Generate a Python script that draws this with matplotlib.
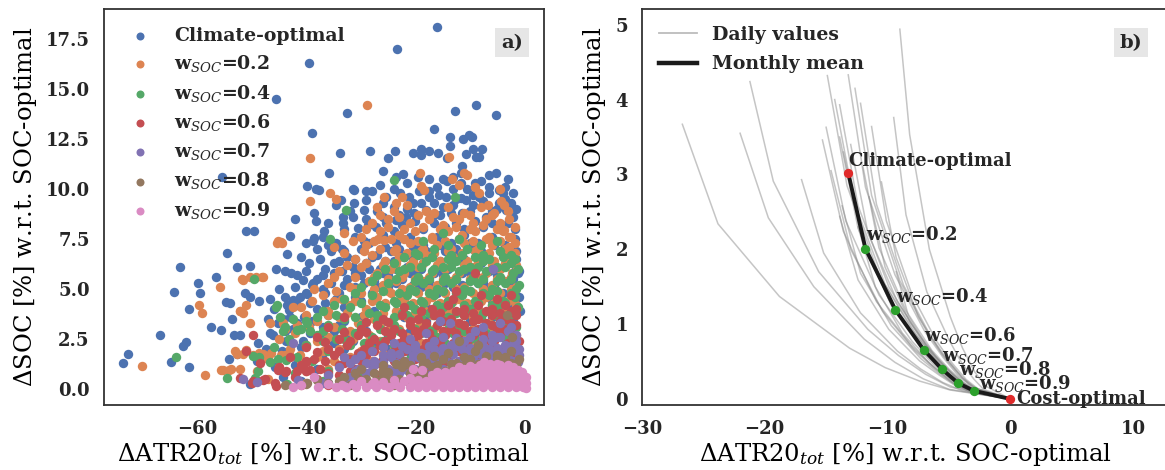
import numpy as np
import matplotlib
matplotlib.use('Agg')
import matplotlib.pyplot as plt
from matplotlib.lines import Line2D

plt.rcParams['font.family'] = ['DejaVu Serif', 'DejaVu Sans']
plt.rcParams['mathtext.fontset'] = 'dejavuserif'
plt.rcParams['text.color'] = '#262626'

# ---------------- panel a) data ----------------
climate_xy = [
    (-16.1,18.1),(-23.3,17.0),(-39.5,16.3),(-45.6,14.5),(-32.5,13.8),(-8.9,14.2),(-12.7,13.9),(-5.2,13.7),
    (-38.9,12.8),(-16.5,13.0),(-13.6,12.6),(-11.2,12.5),(-10.1,12.7),(-9.6,12.6),(-13.7,12.15),
    (-23.8,11.9),(-28.3,11.9),(-33.8,11.8),(-20.4,11.8),(-19.0,12.0),(-19.0,11.7),(-17.4,11.9),(-15.8,11.8),(-14.1,11.55),
    (-10.7,11.75),(-9.5,12.0),(-7.8,12.0),(-8.9,11.6),(-8.3,11.6),(-25.1,11.55),(-26.0,10.9),(-35.8,10.8),(-22.3,10.75),(-23.6,10.6),
    (-17.4,10.5),(-15.0,10.5),(-14.1,10.4),(-11.4,11.15),(-11.6,10.8),(-11.6,10.3),(-5.2,10.8),(-55.5,10.6),
    (-39.8,10.15),(-38.2,10.0),(-37.6,9.95),(-31.2,9.95),(-6.4,10.1),(-4.6,9.95),(-4.0,9.8),
    (-25.4,9.6),(-22.9,9.8),(-21.1,9.6),(-19.3,9.87),(-17.4,9.9),(-15.7,9.7),(-14.4,9.6),(-11.6,9.55),(-9.5,9.7),
    (-31.5,10.0),(-29.0,9.45),(-29.4,8.95),(-38.5,8.8),(-38.2,8.4),(-33.3,8.6),(-33.3,8.3),(-31.2,9.3),(-36.7,7.9),(-38.8,7.4),(-38.5,7.55),
    (-42.0,8.5),(-33.6,9.45),(-51.0,7.9),(-49.6,7.9),(-43.0,7.65),(-54.6,6.8),(-43.5,6.75),(-63.2,6.1),(-52.8,6.1),(-50.3,6.15),
    (-45.5,6.0),(-44.0,5.9),(-42.9,5.8),(-41.8,5.7),(-56.5,5.6),(-59.8,5.3),(-59.5,4.8),(-64.2,4.85),(-61.6,4.0),(-54.7,4.35),(-54.0,4.3),
    (-51.2,4.8),(-50.4,4.6),(-48.6,4.4),(-46.7,4.5),(-44.0,4.6),(-42.4,4.45),(-41.2,4.6),(-39.9,4.75),
    (-66.9,2.7),(-57.4,3.1),(-55.6,2.95),(-53.6,3.5),(-53.2,2.7),(-52.2,2.7),(-48.8,2.3),(-46.7,2.8),(-46.1,2.7),(-41.8,2.95),(-39.4,2.8),
    (-62.0,2.35),(-62.6,2.15),(-72.7,1.75),(-73.6,1.3),(-64.9,1.35),(-61.5,1.1),(-54.1,1.5),(-52.8,1.75),(-50.4,0.25),(-47.4,2.0),(-43.7,2.4),
    (-40.6,5.45),(-38.8,5.3),(-40.0,4.8),(-39.4,4.3),(-41.8,4.2),(-43.1,3.95),(-44.3,3.5),(-45.2,3.3),(-41.8,3.3),(-40.6,2.4),
    (-30.6,8.05),(-28.7,8.2),(-27.2,8.1),(-25.4,8.3),(-23.6,8.45),(-21.7,8.6),(-20.2,8.8),(-18.0,8.95),(-16.5,9.3),(-15.0,9.1),
    (-12.5,9.5),(-10.7,9.45),(-8.3,9.6),(-6.4,9.8),(-4.6,9.3),(-3.4,8.95),(-2.1,8.6),
    (-49.0,1.4),(-47.5,1.6),(-45.8,1.1),(-44.2,0.6),
    (-40.0,7.3),(-37.0,7.6),(-34.5,7.3),(-31.0,7.6),(-28.5,7.3),(-26.0,7.7),(-23.5,7.3),(-21.0,7.6),(-18.5,7.2),(-16.0,7.6),
    (-13.5,7.3),(-11.0,7.7),(-8.5,7.3),(-6.0,7.6),(-3.5,7.2),(-1.8,7.5),
    (-35.5,6.9),(-32.5,6.6),(-30.0,7.0),(-27.0,6.7),(-24.5,6.9),(-22.0,6.6),(-19.5,7.0),(-17.0,6.7),(-14.5,6.9),(-12.0,6.6),
    (-9.5,7.0),(-7.0,6.7),(-4.5,6.9),(-2.5,6.6),
    (-39.5,6.3),(-36.5,6.0),(-34.0,6.4),(-31.5,6.1),(-29.0,6.3),(-26.5,6.0),(-24.0,6.4),(-21.5,6.1),(-18.5,6.3),(-16.0,6.0),
    (-13.0,6.4),(-10.5,6.1),(-8.0,6.3),(-5.5,6.0),(-3.0,6.3),(-1.5,6.0),
    (-38.0,5.5),(-35.0,5.8),(-32.5,5.5),(-30.0,5.7),(-27.5,5.4),(-25.0,5.7),(-22.5,5.5),(-20.0,5.8),(-17.5,5.4),(-15.0,5.7),
    (-12.5,5.5),(-10.0,5.8),(-7.5,5.4),(-5.0,5.7),(-2.0,5.5),
    (-37.0,5.0),(-34.0,4.8),(-31.0,5.1),(-28.0,4.8),(-25.0,5.1),(-22.0,4.9),(-19.0,5.1),(-16.0,4.8),(-13.0,5.1),(-10.0,4.9),
    (-7.0,5.1),(-4.0,4.8),(-1.8,5.1),
    (-36.5,4.3),(-33.0,4.1),(-30.0,4.4),(-26.0,4.2),(-22.0,4.4),(-18.0,4.1),(-14.0,4.4),(-10.0,4.2),(-6.0,4.4),(-2.2,4.2),
    (-43.0,3.6),(-39.0,3.4),(-36.0,3.7),(-33.0,3.4),(-30.0,3.6),(-26.0,3.4),(-22.0,3.6),(-18.0,3.4),(-14.0,3.6),(-10.0,3.4),
    (-6.0,3.6),(-2.0,3.4),
    (-37.5,2.6),(-35.0,2.9),(-32.0,2.6),(-29.0,2.9),(-25.0,2.6),(-21.0,2.9),(-17.0,2.6),(-13.0,2.8),(-9.0,2.6),(-5.0,2.8),(-1.8,2.6),
    (-44.5,1.9),(-41.0,2.1),(-37.0,1.8),(-33.0,2.0),(-29.0,1.8),(-25.0,2.0),(-21.0,1.8),(-16.0,2.0),(-11.0,1.8),(-6.0,2.0),(-2.0,1.8),
    (-42.0,1.2),(-38.0,1.0),(-34.0,1.2),(-30.0,1.0),(-26.0,1.2),(-21.0,1.0),(-16.0,1.2),
    (-41.0,0.4),(-36.0,0.3),(-31.0,0.4),
    (-27.0,8.9),(-24.0,9.1),(-20.5,9.3),(-17.0,8.6),(-13.5,8.8),(-10.0,8.9),(-7.0,8.6),(-5.0,9.0),(-2.5,9.3),(-3.0,10.5),
    (-9.0,10.3),(-13.0,10.0),(-1.0,4.6),(-1.2,5.8),(-0.8,3.9),
    (-28.0,9.9),(-26.5,10.2),(-24.0,10.0),(-21.5,10.3),(-19.5,10.6),(-16.0,10.1),(-13.0,10.6),(-10.5,10.0),(-8.0,10.4),
    (-6.5,10.7),(-3.5,10.1),(-2.0,9.8),
    (-34.5,9.2),(-32.0,8.9),(-29.0,9.9),(-26.0,9.3),(-23.0,8.7),(-21.5,9.0),(-19.0,9.3),(-17.5,9.6),(-15.5,8.7),(-13.0,9.2),
    (-11.5,8.8),(-9.5,9.2),(-7.5,9.4),(-6.0,8.9),(-3.5,9.5),(-1.5,9.0),
    (-36.0,8.3),(-33.0,8.0),(-31.5,8.6),(-29.0,8.5),(-26.0,8.6),(-24.0,7.9),(-22.5,8.2),(-20.0,8.4),(-18.5,8.0),(-16.5,8.3),
    (-14.5,8.1),(-12.5,8.3),(-11.0,8.0),(-9.0,8.4),(-7.5,8.1),(-6.0,8.3),(-4.5,8.0),(-3.0,8.3),(-1.8,8.0),
    (-38.0,7.0),(-36.0,7.2),(-33.5,7.0),(-29.5,7.4),(-25.5,7.1),(-23.0,7.0),(-20.5,7.1),(-18.0,6.9),(-15.5,7.2),(-12.5,7.0),
    (-10.0,7.3),(-8.0,6.9),(-5.5,7.2),(-3.0,7.0),(-1.5,6.9),
    (-41.0,6.6),(-37.5,6.5),(-35.0,6.3),(-33.0,6.9),(-31.0,6.5),(-28.0,6.6),(-25.5,6.4),(-23.0,6.7),(-20.5,6.5),(-18.0,6.6),
    (-15.5,6.4),(-13.5,6.7),(-11.0,6.5),(-8.5,6.6),(-6.0,6.4),(-3.5,6.6),(-1.5,6.5),
    (-40.0,5.9),(-37.0,5.7),(-33.5,5.9),(-31.0,5.8),(-28.5,6.0),(-26.0,5.8),(-23.5,6.0),(-21.0,5.8),(-19.0,6.0),(-16.5,5.8),
    (-14.0,6.0),(-11.5,5.8),(-9.0,6.0),(-6.5,5.9),(-4.0,6.1),(-1.0,5.9),
    (-39.0,5.2),(-35.5,5.3),(-33.0,5.2),(-29.5,5.3),(-26.5,5.1),(-23.5,5.3),(-20.5,5.2),(-17.5,5.1),(-14.5,5.3),(-11.5,5.2),
    (-8.5,5.3),(-5.5,5.2),(-3.0,5.3),
    (-47.0,3.5),(-45.0,5.0),(-43.5,4.2),(-42.0,5.1),(-40.5,3.6),(-38.0,4.0),(-36.5,4.8),(-34.5,4.5),(-32.5,3.9),(-31.0,4.6),
    (-46.0,4.0),(-44.0,2.9),(-42.5,3.0),(-37.0,3.1),(-34.0,3.2),(-35.0,2.3),(-31.5,2.4),(-28.0,2.3),(-27.5,3.9),
]

w02_xy = [
    (-28.9,14.2),(-39.3,11.55),(-19.2,10.8),(-13.3,10.5),(-13.8,11.6),(-18.4,9.95),(-39.3,9.4),(-35.6,9.8),(-34.6,9.5),
    (-45.4,7.3),(-44.4,7.3),(-49.2,5.6),(-47.9,5.6),(-51.7,5.45),(-55.8,5.1),(-59.7,4.2),(-59.1,3.8),(-52.1,3.9),(-51.0,4.2),
    (-50.4,3.3),(-70.2,1.15),(-58.6,0.7),(-55.6,0.95),(-53.8,0.98),(-53.0,1.87),(-51.0,1.92),(-48.7,1.78),(-25.8,9.57),
    (-26.9,7.5),(-25.8,7.45),(-18.9,10.15),(-9.0,10.1),(-8.4,9.8),(-4.5,10.0),(-4.2,9.4),(-3.8,7.95),(-2.8,7.1),(-11.0,10.8),
    (-10.6,10.7),(-12.0,10.2),(-23.5,9.3),(-22.4,9.6),(-6.7,9.2),
    (-46.7,3.3),(-44.3,3.3),(-41.8,3.2),(-42.4,4.1),(-52.2,3.9),(-51.6,3.8),(-48.1,5.6),(-51.8,5.5),(-50.4,5.6),(-45.2,7.4),
    (-44.6,7.35),(-55.3,0.95),(-54.1,0.95),(-52.2,1.0),(-52.8,1.75),(-51.6,1.75),(-49.8,1.7),(-48.0,1.75),(-46.4,1.8),
    (-44.6,1.7),(-43.1,1.75),(-41.2,1.7),
    (-27.0,9.1),(-24.0,8.9),(-21.5,9.2),(-18.0,8.9),(-14.0,9.1),(-11.0,8.8),(-8.0,9.1),(-5.5,8.8),(-3.8,9.2),
    (-28.0,8.3),(-25.0,8.5),(-21.0,8.3),(-17.5,8.5),(-15.0,8.2),(-12.0,8.5),(-9.5,8.3),(-7.0,8.5),(-4.5,8.3),(-2.8,8.5),
    (-33.0,7.8),(-30.0,7.6),(-26.5,7.9),(-23.0,7.7),(-20.0,7.9),(-17.0,7.6),(-14.0,7.9),(-11.5,7.7),(-9.0,7.9),(-6.5,7.6),
    (-4.0,7.9),(-2.5,7.6),
    (-35.0,7.1),(-29.0,7.2),(-23.5,7.0),(-21.0,7.3),(-18.5,7.0),(-16.0,7.2),(-13.5,7.0),(-11.0,7.3),(-8.5,7.0),(-6.0,7.2),
    (-3.5,7.0),(-1.8,7.3),
    (-31.0,6.5),(-28.0,6.7),(-25.5,6.4),(-23.0,6.6),(-20.5,6.4),(-18.0,6.7),(-15.5,6.4),(-13.0,6.6),(-10.5,6.4),(-8.0,6.7),
    (-5.5,6.4),(-3.0,6.6),
    (-34.0,5.9),(-30.0,6.1),(-27.0,5.8),(-24.5,6.0),(-22.0,5.8),(-19.5,6.1),(-17.0,5.8),(-14.5,6.0),(-12.0,5.8),(-9.5,6.1),
    (-7.0,5.8),(-4.5,6.0),(-2.2,5.8),
    (-36.0,5.3),(-32.0,5.1),(-28.5,5.4),(-26.0,5.2),(-23.5,5.4),(-21.0,5.1),(-18.5,5.4),(-16.0,5.2),(-13.5,5.4),(-11.0,5.1),
    (-8.5,5.4),(-6.0,5.2),(-3.5,5.4),(-1.5,5.1),
    (-37.0,4.7),(-33.5,4.5),(-30.0,4.8),(-27.0,4.6),(-24.5,4.8),(-22.0,4.5),(-19.5,4.8),(-17.0,4.6),(-14.5,4.8),(-12.0,4.5),
    (-9.5,4.8),(-7.0,4.6),(-4.5,4.8),(-2.0,4.5),
    (-41.0,4.1),(-36.0,3.9),(-32.0,4.2),(-29.0,4.0),(-26.0,4.2),(-23.5,3.9),(-21.0,4.2),(-18.5,4.0),(-16.0,4.2),(-13.5,3.9),
    (-11.0,4.2),(-8.5,4.0),(-6.0,4.2),(-3.5,3.9),(-1.5,4.2),
    (-38.0,3.4),(-34.0,3.6),(-30.5,3.3),(-27.5,3.5),(-24.5,3.3),(-21.5,3.6),(-18.5,3.3),(-15.5,3.5),(-12.5,3.3),(-9.5,3.6),
    (-6.5,3.3),(-3.5,3.5),
    (-42.0,2.8),(-36.0,2.6),(-32.0,2.9),(-28.5,2.7),(-25.0,2.9),(-21.5,2.6),(-18.0,2.9),(-14.5,2.7),(-11.0,2.9),(-7.5,2.6),
    (-4.0,2.9),(-1.5,2.7),
    (-40.0,2.2),(-34.0,2.0),(-29.0,2.3),(-24.0,2.1),(-19.0,2.3),(-14.0,2.0),(-9.0,2.2),(-4.0,2.0),
    (-47.0,1.5),(-44.0,1.7),(-41.0,1.4),(-38.0,1.6),(-35.0,1.4),(-32.0,1.6),(-28.0,1.4),(-23.0,1.6),(-17.0,1.4),(-11.0,1.6),(-5.0,1.4),
    (-49.0,0.9),(-45.0,1.1),(-40.0,0.9),(-36.0,1.0),(-31.0,0.8),(-26.0,1.0),
    (-47.0,0.5),(-40.0,0.3),(-33.0,0.4),
    (-26.5,8.7),(-23.0,8.6),(-19.5,8.7),(-16.5,8.8),(-13.0,8.6),(-10.0,8.7),(-6.0,8.7),(-3.0,8.9),
    (-29.0,8.0),(-25.0,8.1),(-22.0,8.0),(-18.5,8.1),(-15.5,8.0),(-12.5,8.1),(-10.0,8.0),(-7.5,8.2),(-5.0,8.0),(-1.8,8.1),
    (-31.5,7.4),(-27.5,7.4),(-24.5,7.5),(-22.0,7.5),(-19.5,7.4),(-17.0,7.5),(-14.5,7.4),(-12.0,7.5),(-9.5,7.4),(-7.0,7.5),
    (-4.5,7.4),(-2.8,7.6),
    (-33.0,6.8),(-29.5,6.9),(-26.5,7.0),(-24.0,6.9),(-21.5,6.8),(-19.0,6.9),(-16.5,6.8),(-14.0,6.9),(-11.5,6.8),(-9.0,6.9),
    (-6.5,6.8),(-4.0,6.9),(-1.8,6.8),
    (-32.5,6.2),(-29.0,6.3),(-26.0,6.2),(-23.5,6.3),(-21.0,6.2),(-18.5,6.3),(-16.0,6.2),(-13.5,6.3),(-11.0,6.2),(-8.5,6.3),
    (-6.0,6.2),(-3.5,6.3),(-1.5,6.2),
    (-35.0,5.6),(-31.0,5.6),(-27.5,5.6),(-25.0,5.5),(-22.5,5.6),(-20.0,5.5),(-17.5,5.6),(-15.0,5.5),(-12.5,5.6),(-10.0,5.5),
    (-7.5,5.6),(-5.0,5.5),(-2.5,5.6),
    (-38.5,5.0),(-34.5,4.9),(-31.0,5.0),(-27.5,5.0),(-25.0,4.9),(-22.5,5.0),(-20.0,4.9),(-17.5,5.0),(-15.0,4.9),(-12.5,5.0),
    (-10.0,4.9),(-7.5,5.0),(-5.0,4.9),(-2.5,5.0),
    (-39.0,4.4),(-35.0,4.4),(-31.0,4.4),(-28.0,4.4),(-25.5,4.3),(-23.0,4.4),(-20.5,4.3),(-18.0,4.4),(-15.5,4.3),(-13.0,4.4),
    (-10.5,4.3),(-8.0,4.4),(-5.5,4.3),(-3.0,4.4),
    (-40.0,3.7),(-36.0,3.7),(-32.5,3.8),(-29.5,3.7),(-26.0,3.8),(-23.0,3.7),(-20.0,3.8),(-17.0,3.7),(-14.0,3.8),(-11.0,3.7),
    (-8.0,3.8),(-5.0,3.7),(-2.0,3.8),
    (-44.0,3.0),(-39.5,3.1),(-35.0,3.1),(-30.0,3.0),(-26.5,3.1),(-23.0,3.0),(-19.5,3.1),(-16.5,3.0),(-13.0,3.1),(-9.5,3.0),
    (-6.0,3.1),(-2.5,3.0),
    (-45.0,2.5),(-38.0,2.4),(-31.5,2.5),(-26.5,2.4),(-21.5,2.5),(-16.5,2.4),(-11.5,2.5),(-6.5,2.4),(-2.0,2.4),
    (-43.0,2.0),(-37.0,1.9),(-30.0,1.9),(-26.0,1.8),(-20.0,1.9),(-14.0,1.7),(-8.0,1.8),
]

w04_xy = [
    (-24.0,10.45),(-12.8,9.58),(-32.7,8.95),(-35.6,7.5),(-49.6,5.5),(-45.4,4.2),(-63.9,1.6),(-54.6,0.55),(-49.5,0.55),
    (-15.0,7.8),(-43.5,0.25),
    (-45.5,4.1),(-44.9,3.6),(-44.0,3.1),(-42.4,3.5),(-41.8,2.95),(-39.9,3.3),(-39.4,2.9),(-44.3,2.9),(-43.1,2.5),
    (-49.8,1.65),(-48.6,1.6),(-46.7,1.35),(-45.2,1.5),(-43.7,1.45),(-41.8,1.6),(-48.9,0.87),
    (-18.5,7.4),(-14.0,7.2),(-12.0,7.5),(-8.0,7.2),(-5.0,7.4),
    (-20.0,6.8),(-16.5,7.0),(-13.5,6.7),(-10.5,7.0),(-7.5,6.7),(-4.5,6.9),(-2.5,6.7),
    (-24.0,6.3),(-21.0,6.1),(-18.0,6.4),(-15.0,6.1),(-12.5,6.4),(-10.0,6.1),(-7.5,6.4),(-5.0,6.1),(-2.5,6.3),
    (-27.0,5.7),(-23.0,5.9),(-19.5,5.6),(-17.0,5.9),(-14.5,5.6),(-12.0,5.9),(-9.5,5.6),(-7.0,5.9),(-4.5,5.6),(-2.0,5.8),
    (-30.0,5.1),(-25.0,5.3),(-21.0,5.0),(-18.5,5.3),(-16.0,5.0),(-13.5,5.3),(-11.0,5.0),(-8.5,5.3),(-6.0,5.0),(-3.5,5.3),(-1.5,5.0),
    (-33.0,4.5),(-28.0,4.7),(-24.0,4.4),(-21.5,4.7),(-19.0,4.4),(-16.5,4.7),(-14.0,4.4),(-11.5,4.7),(-9.0,4.4),(-6.5,4.7),
    (-4.0,4.4),(-1.8,4.6),
    (-37.0,3.9),(-32.0,4.1),(-28.5,3.8),(-25.5,4.1),(-22.5,3.8),(-20.0,4.0),(-17.5,3.8),(-15.0,4.1),(-12.5,3.8),(-10.0,4.0),
    (-7.5,3.8),(-5.0,4.1),(-2.5,3.8),
    (-40.0,3.4),(-36.0,3.2),(-33.0,3.5),(-30.0,3.2),(-27.0,3.4),(-24.0,3.2),(-21.0,3.5),(-18.0,3.2),(-15.0,3.4),(-12.0,3.2),
    (-9.0,3.5),(-6.0,3.2),(-3.0,3.4),(-1.5,3.1),
    (-38.0,2.7),(-34.5,2.5),(-31.0,2.8),(-28.0,2.6),(-25.0,2.8),(-22.0,2.5),(-19.0,2.8),(-16.0,2.6),(-13.0,2.8),(-10.0,2.5),
    (-7.0,2.8),(-4.0,2.6),
    (-46.0,2.1),(-40.0,2.2),(-36.0,1.9),(-32.0,2.2),(-28.0,2.0),(-24.0,2.2),(-20.0,1.9),(-16.0,2.1),(-12.0,1.9),(-8.0,2.1),(-4.0,1.9),
    (-39.0,1.4),(-33.0,1.6),(-27.0,1.3),(-21.0,1.5),(-15.0,1.3),(-9.0,1.5),
    (-42.0,0.8),(-36.0,0.9),(-30.0,0.7),(-24.0,0.9),
    (-37.0,0.4),(-31.0,0.3),
    (-22.0,6.6),(-19.5,6.7),(-17.0,6.6),(-14.0,6.5),(-11.5,6.7),(-9.0,6.6),(-6.5,6.5),(-4.0,6.6),(-1.8,6.5),
    (-25.5,6.0),(-22.0,6.0),(-19.0,6.1),(-16.5,6.0),(-13.5,6.1),(-11.0,6.0),(-8.5,6.1),(-6.0,6.0),(-3.5,6.1),(-1.2,6.0),
    (-28.0,5.4),(-23.5,5.5),(-20.0,5.4),(-17.5,5.5),(-15.0,5.4),(-12.5,5.5),(-10.0,5.4),(-7.5,5.5),(-5.0,5.4),(-2.5,5.5),
    (-31.0,4.8),(-26.0,4.9),(-23.0,4.8),(-20.0,4.9),(-17.5,4.8),(-15.0,4.9),(-12.5,4.8),(-10.0,4.9),(-7.5,4.8),(-5.0,4.9),
    (-2.5,4.8),(-1.0,5.2),
    (-35.0,4.2),(-30.0,4.3),(-26.5,4.2),(-23.5,4.3),(-21.0,4.2),(-18.5,4.3),(-16.0,4.2),(-13.5,4.3),(-11.0,4.2),(-8.5,4.3),
    (-6.0,4.2),(-3.5,4.3),(-1.2,4.1),
    (-38.0,3.6),(-34.5,3.7),(-31.0,3.6),(-27.0,3.7),(-24.0,3.6),(-21.5,3.7),(-19.0,3.6),(-16.5,3.7),(-14.0,3.6),(-11.0,3.7),
    (-8.0,3.6),(-5.5,3.7),(-3.0,3.6),
    (-41.0,3.0),(-37.0,2.9),(-33.5,3.0),(-30.0,2.9),(-26.5,3.0),(-23.0,2.9),(-20.0,3.0),(-17.0,2.9),(-14.0,3.0),(-11.0,2.9),
    (-8.0,3.0),(-5.0,2.9),(-2.0,3.0),
    (-43.0,2.4),(-37.0,2.4),(-33.0,2.5),(-29.5,2.3),(-26.0,2.4),(-20.5,2.3),(-14.5,2.3),(-8.5,2.4),(-2.0,2.3),
]

w06_xy = [
    (-49.7,2.7),(-51.0,1.9),(-50.0,0.3),(-9.0,5.8),(-47.5,0.5),(-48.5,1.3),(-45.8,0.3),(-12.6,4.9),
    (-49.8,0.37),(-47.9,0.42),(-45.5,0.12),(-45.2,0.92),(-43.7,0.87),(-41.8,0.87),(-40.0,1.37),(-39.4,0.95),(-52.1,0.53),
    (-13.0,4.5),(-8.0,4.7),(-5.0,4.5),(-2.5,4.7),
    (-22.0,4.1),(-17.0,4.0),(-14.0,4.2),(-11.0,4.0),(-8.5,4.2),(-6.0,4.0),(-3.5,4.2),(-1.5,4.0),
    (-33.0,3.6),(-26.0,3.5),(-22.5,3.7),(-19.5,3.5),(-16.5,3.7),(-13.5,3.5),(-11.0,3.7),(-8.5,3.5),(-6.0,3.7),(-3.5,3.5),(-1.5,3.7),
    (-36.0,3.1),(-30.0,3.0),(-27.0,3.2),(-24.0,3.0),(-21.0,3.2),(-18.5,3.0),(-16.0,3.2),(-13.5,3.0),(-11.0,3.2),(-8.5,3.0),
    (-6.0,3.2),(-3.5,3.0),(-1.5,3.2),
    (-38.0,2.6),(-34.0,2.5),(-30.5,2.7),(-27.5,2.5),(-24.5,2.7),(-22.0,2.5),(-19.5,2.7),(-17.0,2.5),(-14.5,2.7),(-12.0,2.5),
    (-9.5,2.7),(-7.0,2.5),(-4.5,2.7),(-2.0,2.5),
    (-40.0,2.1),(-36.0,2.0),(-32.5,2.2),(-29.5,2.0),(-26.5,2.2),(-23.5,2.0),(-21.0,2.2),(-18.5,2.0),(-16.0,2.2),(-13.5,2.0),
    (-11.0,2.2),(-8.5,2.0),(-6.0,2.2),(-3.5,2.0),(-1.5,2.2),
    (-43.0,1.6),(-38.5,1.5),(-35.0,1.7),(-32.0,1.5),(-29.0,1.7),(-26.0,1.5),(-23.0,1.7),(-20.0,1.5),(-17.0,1.7),(-14.0,1.5),
    (-11.0,1.7),(-8.0,1.5),(-5.0,1.7),(-2.0,1.5),
    (-45.0,1.1),(-41.0,1.2),(-37.5,1.0),(-34.0,1.2),(-31.0,1.0),(-28.0,1.2),(-25.0,1.0),(-22.0,1.2),(-19.0,1.0),(-16.0,1.2),
    (-13.0,1.0),(-10.0,1.2),
    (-42.0,0.6),(-38.0,0.5),(-34.0,0.7),(-30.5,0.5),(-27.0,0.7),(-24.0,0.5),
    (-41.0,0.2),(-36.0,0.2),
    (-19.0,3.9),(-15.5,3.8),(-12.5,3.9),(-9.5,3.8),(-7.0,3.9),(-4.5,3.8),(-2.5,3.9),
    (-29.0,3.35),(-25.0,3.35),(-21.0,3.4),(-18.0,3.3),(-15.0,3.4),(-12.0,3.3),(-9.5,3.4),(-7.0,3.3),(-4.5,3.4),(-2.5,3.3),
    (-33.0,2.85),(-29.0,2.85),(-25.5,2.9),(-22.5,2.8),(-20.0,2.9),(-17.5,2.8),(-15.0,2.9),(-12.5,2.8),(-10.0,2.9),(-7.5,2.8),
    (-5.0,2.9),(-2.5,2.8),
    (-36.5,2.35),(-32.0,2.4),(-28.5,2.3),(-25.5,2.4),(-23.0,2.3),(-20.5,2.4),(-18.0,2.3),(-15.5,2.4),(-13.0,2.3),(-10.5,2.4),
    (-8.0,2.3),(-5.5,2.4),(-3.0,2.3),(-1.0,2.4),
    (-38.0,1.85),(-34.0,1.9),(-30.5,1.8),(-27.5,1.9),(-24.5,1.8),(-22.0,1.9),(-19.5,1.8),(-17.0,1.9),(-14.5,1.8),(-12.0,1.9),
    (-9.5,1.8),(-7.0,1.9),(-4.5,1.8),(-2.0,1.9),
    (-40.0,1.35),(-36.5,1.4),(-33.0,1.3),(-30.0,1.4),(-27.0,1.3),(-24.0,1.4),(-21.0,1.3),(-18.0,1.4),(-15.0,1.3),(-12.0,1.4),
    (-9.0,1.3),(-6.5,1.4),(-4.0,1.3),
    (-44.0,0.85),(-40.0,0.9),(-36.0,0.8),(-32.0,0.9),(-29.0,0.8),(-26.0,0.9),(-21.0,0.8),(-17.5,0.85),
]

w07_xy = [
    (-42.5,2.3),(-51.7,0.5),(-5.8,6.0),(-15.4,3.4),(-13.6,3.3),(-33.0,1.6),(-49.0,0.35),(-41.5,0.45),
    (-18.0,2.8),(-9.0,2.9),(-6.0,2.7),(-3.0,2.9),(-1.5,2.7),
    (-24.0,2.3),(-20.0,2.2),(-16.5,2.4),(-13.5,2.2),(-11.0,2.4),(-8.5,2.2),(-6.0,2.4),(-3.5,2.2),(-1.5,2.4),
    (-28.0,1.9),(-24.5,1.8),(-21.5,2.0),(-19.0,1.8),(-16.5,2.0),(-14.0,1.8),(-11.5,2.0),(-9.0,1.8),(-6.5,2.0),(-4.0,1.8),(-1.8,2.0),
    (-31.0,1.5),(-27.5,1.4),(-24.5,1.6),(-22.0,1.4),(-19.5,1.6),(-17.0,1.4),(-14.5,1.6),(-12.0,1.4),(-9.5,1.6),(-7.0,1.4),
    (-4.5,1.6),(-2.0,1.4),
    (-34.0,1.1),(-30.5,1.0),(-27.5,1.2),(-25.0,1.0),(-22.5,1.2),(-20.0,1.0),(-17.5,1.2),(-15.0,1.0),(-12.5,1.2),(-10.0,1.0),
    (-7.5,1.2),(-5.0,1.0),(-2.5,1.2),
    (-36.0,0.7),(-32.0,0.6),(-29.0,0.8),(-26.0,0.6),(-23.0,0.8),(-20.0,0.6),(-17.0,0.8),(-14.0,0.6),
    (-37.0,0.3),(-33.0,0.3),(-29.0,0.3),
    (-7.5,3.1),(-4.5,3.3),(-2.5,3.1),(-5.0,2.6),(-2.8,2.0),
    (-21.0,2.5),(-15.0,2.6),(-12.5,2.55),(-10.0,2.6),(-7.5,2.5),(-4.5,2.6),(-2.0,2.55),
    (-26.0,2.1),(-22.5,2.15),(-20.0,2.05),(-17.5,2.15),(-15.0,2.05),(-12.5,2.15),(-10.0,2.05),(-7.5,2.15),(-5.0,2.05),
    (-2.5,2.15),(-1.0,2.0),
    (-30.0,1.7),(-26.0,1.7),(-23.0,1.75),(-20.5,1.7),(-18.0,1.75),(-15.5,1.7),(-13.0,1.75),(-10.5,1.7),(-8.0,1.75),(-5.5,1.7),
    (-3.0,1.75),(-1.0,1.7),
    (-32.0,1.3),(-29.0,1.3),(-26.0,1.35),(-23.5,1.3),(-21.0,1.35),(-18.5,1.3),(-16.0,1.35),(-13.5,1.3),(-11.0,1.35),(-8.5,1.3),
    (-6.0,1.35),(-3.5,1.3),(-1.2,1.35),
    (-31.0,0.9),(-28.0,0.95),(-24.0,0.9),(-21.5,0.95),(-19.0,0.9),(-16.5,0.95),(-13.5,0.9),(-11.0,0.85),(-8.5,0.9),(-6.0,0.85),
]

w08_xy = [
    (-3.1,3.7),(-39.9,0.3),(-2.2,2.6),(-8.5,2.2),(-44.0,0.2),(-12.0,2.4),
    (-14.0,1.8),(-9.0,1.9),(-5.0,1.7),(-2.5,1.9),
    (-22.0,1.4),(-18.0,1.3),(-15.0,1.5),(-12.5,1.3),(-10.0,1.5),(-7.5,1.3),(-5.0,1.5),(-2.5,1.3),(-1.0,1.5),
    (-30.0,1.0),(-26.0,0.9),(-22.5,1.1),(-19.5,0.9),(-17.0,1.1),(-14.5,0.9),(-12.0,1.1),(-9.5,0.9),(-7.0,1.1),(-4.5,0.9),(-2.0,1.1),
    (-33.0,0.6),(-29.0,0.5),(-26.0,0.7),(-23.0,0.5),(-20.5,0.7),(-18.0,0.5),(-15.5,0.7),(-13.0,0.5),(-10.5,0.7),(-8.0,0.5),
    (-5.5,0.7),(-3.0,0.5),(-1.0,0.7),
    (-40.0,0.25),(-36.0,0.3),(-32.0,0.2),(-28.0,0.3),(-24.0,0.2),(-20.0,0.3),
    (-19.0,1.6),(-16.5,1.65),(-11.0,1.6),(-7.0,1.65),(-3.5,1.6),
    (-26.0,1.2),(-23.5,1.25),(-21.0,1.2),(-18.5,1.25),(-16.0,1.2),(-13.5,1.25),(-11.0,1.2),(-8.5,1.25),(-6.0,1.2),(-3.5,1.25),(-1.5,1.2),
    (-31.0,0.8),(-27.5,0.8),(-25.0,0.85),(-21.0,0.8),(-18.5,0.85),(-16.0,0.8),(-13.5,0.85),(-11.0,0.8),(-8.5,0.85),(-6.0,0.8),
    (-3.5,0.85),(-1.2,0.9),
    (-38.0,0.45),(-34.0,0.4),(-30.5,0.45),(-27.0,0.4),(-25.0,0.45),(-21.5,0.4),(-19.0,0.45),(-16.5,0.4),(-14.0,0.45),(-11.5,0.4),
    (-9.0,0.45),(-6.5,0.4),(-4.0,0.45),(-2.0,0.4),
]

w09_xy = [
    (-7.4,1.35),(-5.0,1.25),(-3.0,1.2),
    (-20.5,1.0),(-18.7,0.95),(-13.0,0.9),(-11.0,1.0),(-9.0,1.05),(-7.0,1.1),(-5.5,1.0),(-4.0,1.05),(-2.5,1.0),(-1.2,0.95),
    (-17.0,0.7),(-15.5,0.75),(-14.0,0.7),(-12.5,0.75),(-11.0,0.7),(-9.5,0.75),(-8.0,0.7),(-6.5,0.75),(-5.0,0.7),(-3.5,0.75),
    (-2.0,0.7),(-0.6,0.75),(0.3,0.6),
    (-30.0,0.4),(-26.0,0.35),(-22.0,0.4),(-19.5,0.45),(-18.0,0.4),(-16.5,0.45),(-15.0,0.4),(-13.5,0.45),(-12.0,0.4),(-10.5,0.45),
    (-9.0,0.4),(-7.5,0.45),(-6.0,0.4),(-4.5,0.45),(-3.0,0.4),(-1.5,0.45),(-0.3,0.4),(0.3,0.3),
    (-42.5,0.1),(-38.5,0.6),(-37.9,0.1),(-34.5,0.1),(-32.7,0.1),(-30.9,0.1),(-29.0,0.1),(-27.2,0.1),(-24.8,0.1),(-22.9,0.1),
    (-21.0,0.1),(-19.5,0.1),(-18.0,0.1),(-16.5,0.1),(-15.0,0.1),(-13.5,0.1),(-12.0,0.1),(-10.5,0.1),(-9.0,0.1),(-7.5,0.1),
    (-6.0,0.1),(-4.5,0.1),(-3.0,0.1),(-1.5,0.1),(-0.3,0.1),(0.4,0.05),
    (-41.0,0.2),(-36.0,0.25),(-33.5,0.2),(-31.5,0.25),(-28.0,0.25),(-25.8,0.2),(-23.8,0.25),(-20.2,0.25),(-18.7,0.25),
    (-17.2,0.25),(-15.7,0.25),(-14.2,0.25),(-12.7,0.25),(-11.2,0.25),(-9.7,0.25),(-8.2,0.25),(-6.7,0.25),(-5.2,0.25),
    (-3.7,0.25),(-2.2,0.25),(-0.8,0.25),
    (-16.2,0.55),(-14.7,0.55),(-13.2,0.55),(-11.7,0.55),(-10.2,0.55),(-8.7,0.55),(-7.2,0.55),(-5.7,0.55),(-4.2,0.55),
    (-2.7,0.55),(-1.2,0.55),(0.1,0.5),(-21.0,0.55),(-24.0,0.45),(-27.5,0.35),
    (-16.0,0.85),(-14.5,0.85),(-12.0,0.85),(-10.0,0.85),(-8.5,0.9),(-7.5,0.95),(-6.0,0.9),(-4.5,0.9),(-3.0,0.85),(-1.8,0.85),
    (-0.5,0.85),
    (-10.0,1.15),(-8.2,1.2),(-6.3,1.25),(-4.5,1.2),(-2.0,1.1),(-12.0,1.1),
]

scatter_labels = ['Climate-optimal', r'w$_{SOC}$=0.2', r'w$_{SOC}$=0.4', r'w$_{SOC}$=0.6',
                  r'w$_{SOC}$=0.7', r'w$_{SOC}$=0.8', r'w$_{SOC}$=0.9']
a_xticks = [-60, -40, -20, 0]
a_xticklabels = ['\u221260', '\u221240', '\u221220', '0']
a_yticks = [0, 2.5, 5, 7.5, 10, 12.5, 15, 17.5]
a_yticklabels = ['0.0', '2.5', '5.0', '7.5', '10.0', '12.5', '15.0', '17.5']

# ---------------- panel b) data ----------------
daily_x = [
    [-26.7,-23.8,-18.8,-13.1,-10.2,-7.4,-4.9,0],
    [-21.2,-19.3,-15.6,-11.6,-9.1,-6.9,-4.9,0],
    [-22.0,-19.7,-16.0,-11.9,-9.4,-7.1,-5.0,0],
    [-17.0,-15.2,-12.2,-9.2,-7.3,-5.5,-3.9,0],
    [-14.9,-13.3,-10.7,-8.0,-6.3,-4.8,-3.4,0],
    [-15.0,-13.4,-10.7,-8.0,-6.3,-4.8,-3.4,0],
    [-15.3,-13.6,-10.9,-8.1,-6.4,-4.9,-3.5,0],
    [-13.9,-12.4,-9.9,-7.4,-5.8,-4.4,-3.2,0],
    [-13.2,-11.8,-9.4,-7.0,-5.5,-4.2,-3.0,0],
    [-12.65,-11.3,-9.0,-6.7,-5.3,-4.0,-2.9,0],
    [-11.3,-10.1,-8.0,-6.0,-4.7,-3.6,-2.6,0],
    [-9.5,-8.5,-6.8,-5.0,-4.0,-3.0,-2.2,0],
    [-9.0,-8.2,-6.6,-4.9,-3.9,-2.9,-2.1,0],
    [-13.9,-12.4,-9.9,-7.4,-5.8,-4.4,-3.2,0],
    [-13.7,-12.2,-9.7,-7.3,-5.8,-4.4,-3.2,0],
    [-13.9,-12.4,-9.9,-7.4,-5.8,-4.4,-3.2,0],
    [-9.3,-8.3,-6.6,-4.9,-3.9,-3.0,-2.1,0],
    [-13.6,-12.1,-9.7,-7.2,-5.7,-4.4,-3.1,0],
    [-12.0,-10.7,-8.5,-6.4,-5.0,-3.8,-2.8,0],
    [-10.5,-9.3,-7.5,-5.6,-4.4,-3.4,-2.4,0],
    [-14.6,-13.0,-10.4,-7.8,-6.1,-4.7,-3.3,0],
    [-12.2,-10.9,-8.7,-6.5,-5.1,-3.9,-2.8,0],
    [-13.0,-11.6,-9.2,-6.9,-5.4,-4.1,-2.9,0],
    [-11.5,-10.2,-8.2,-6.1,-4.8,-3.7,-2.6,0],
    [-14.3,-12.7,-10.2,-7.6,-6.0,-4.6,-3.3,0],
    [-12.4,-11.0,-8.8,-6.6,-5.2,-4.0,-2.8,0],
]
daily_y = [
    [3.67,2.34,1.37,0.68,0.42,0.24,0.12,0],
    [4.24,2.91,1.70,0.93,0.58,0.33,0.16,0],
    [3.55,2.42,1.50,0.80,0.49,0.27,0.13,0],
    [2.93,1.95,1.15,0.64,0.40,0.22,0.11,0],
    [4.32,2.85,1.66,0.92,0.57,0.31,0.15,0],
    [3.63,2.38,1.39,0.77,0.47,0.26,0.13,0],
    [3.46,2.24,1.30,0.72,0.45,0.24,0.12,0],
    [3.93,2.58,1.50,0.83,0.51,0.28,0.14,0],
    [4.33,2.83,1.66,0.91,0.56,0.30,0.15,0],
    [4.15,2.72,1.58,0.87,0.54,0.29,0.15,0],
    [3.64,2.38,1.39,0.77,0.47,0.26,0.13,0],
    [3.76,2.46,1.43,0.79,0.49,0.27,0.13,0],
    [4.94,3.53,2.00,1.10,0.68,0.36,0.18,0],
    [3.50,2.28,1.33,0.74,0.46,0.25,0.12,0],
    [2.58,1.68,0.98,0.54,0.34,0.18,0.09,0],
    [2.44,1.59,0.93,0.51,0.32,0.17,0.09,0],
    [1.70,1.11,0.65,0.36,0.22,0.12,0.06,0],
    [3.30,2.15,1.25,0.69,0.43,0.23,0.12,0],
    [3.10,2.02,1.18,0.65,0.40,0.22,0.11,0],
    [2.90,1.89,1.10,0.61,0.38,0.20,0.10,0],
    [3.05,2.00,1.17,0.65,0.40,0.22,0.11,0],
    [3.95,2.60,1.52,0.84,0.52,0.28,0.14,0],
    [3.40,2.22,1.30,0.72,0.44,0.24,0.12,0],
    [2.70,1.76,1.03,0.57,0.35,0.19,0.09,0],
    [4.00,2.62,1.53,0.84,0.52,0.28,0.14,0],
    [2.30,1.50,0.88,0.48,0.30,0.16,0.08,0],
]
mean_x = [-13.2, -11.8, -9.36, -7.07, -5.59, -4.24, -2.98, 0.0]
mean_y = [3.02, 2.01, 1.19, 0.66, 0.40, 0.21, 0.11, 0.0]
mean_labels = ['Climate-optimal', r'w$_{SOC}$=0.2', r'w$_{SOC}$=0.4', r'w$_{SOC}$=0.6',
               r'w$_{SOC}$=0.7', r'w$_{SOC}$=0.8', r'w$_{SOC}$=0.9', 'Cost-optimal']
b_xticks = [-30, -20, -10, 0, 10]
b_xticklabels = ['\u221230', '\u221220', '\u221210', '0', '10']
b_yticks = [0, 1, 2, 3, 4, 5]
b_yticklabels = ['0', '1', '2', '3', '4', '5']

# ---------------- drawing ----------------
fig = plt.figure(figsize=(11.65, 4.70), dpi=100)
ax1 = fig.add_axes([0.0889, 0.1383, 0.378, 0.8426])
ax2 = fig.add_axes([0.5509, 0.1383, 0.4525, 0.8426])

deep = ['#4C72B0', '#DD8452', '#55A868', '#C44E52', '#8172B3', '#937860', '#DA8BC3']
series = [climate_xy, w02_xy, w04_xy, w06_xy, w07_xy, w08_xy, w09_xy]
for pts, col, lab in zip(series, deep, scatter_labels):
    arr = np.array(pts)
    ax1.scatter(arr[:, 0], arr[:, 1], s=46, color=col, label=lab, linewidths=0)

ax1.set_xlim(-77.2, 3.6)
ax1.set_ylim(-0.82, 19.0)
ax1.legend(loc='upper left', frameon=False, prop={'weight': 'bold', 'size': 13.6},
           handletextpad=0.8, labelspacing=0.44, borderaxespad=0.55, scatterpoints=1, markerscale=0.85)

for xs, ys in zip(daily_x, daily_y):
    ax2.plot(xs, ys, color='#8c8c8c', alpha=0.5, lw=1.1, zorder=1)
ax2.plot(mean_x, mean_y, color='#1a1a1a', lw=2.8, zorder=3, solid_capstyle='round')
ax2.scatter([mean_x[0], mean_x[-1]], [mean_y[0], mean_y[-1]], s=45, color='#e02b2b', zorder=4, linewidths=0)
ax2.scatter(mean_x[1:-1], mean_y[1:-1], s=45, color='#2ca02c', zorder=4, linewidths=0)

offsets = [(0, 5), (0.5, 6), (0.5, 6), (0.5, 6), (0.5, 6), (0.5, 6), (4, 1.5), (4, -3.5)]
for xv, yv, lab, off in zip(mean_x, mean_y, mean_labels, offsets):
    ax2.annotate(lab, (xv, yv), xytext=off, textcoords='offset points', ha='left', va='baseline',
                 fontsize=13, fontweight='bold', zorder=5)

ax2.set_xlim(-30, 12.9)
ax2.set_ylim(-0.08, 5.21)
handles = [Line2D([], [], color='#bcbcbc', lw=1.3), Line2D([], [], color='#1a1a1a', lw=3.2)]
ax2.legend(handles, ['Daily values', 'Monthly mean'], loc='upper left', frameon=False,
           prop={'weight': 'bold', 'size': 13.6}, handletextpad=0.8, labelspacing=0.6)

for ax, xt, xtl, yt, ytl in [(ax1, a_xticks, a_xticklabels, a_yticks, a_yticklabels),
                              (ax2, b_xticks, b_xticklabels, b_yticks, b_yticklabels)]:
    ax.set_xticks(xt)
    ax.set_xticklabels(xtl, fontweight='bold', fontsize=13)
    ax.set_yticks(yt)
    ax.set_yticklabels(ytl, fontweight='bold', fontsize=13)
    ax.tick_params(axis='x', length=0, pad=11, colors='#262626')
    ax.tick_params(axis='y', length=0, pad=10, colors='#262626')
    for sp in ax.spines.values():
        sp.set_color('#333333')
        sp.set_linewidth(1.3)
    ax.set_xlabel(r'$\Delta$ATR20$_{tot}$ [%] w.r.t. SOC-optimal', fontsize=17.5, labelpad=2)
    ax.set_ylabel(r'$\Delta$SOC [%] w.r.t. SOC-optimal', fontsize=17.5, labelpad=5)

ax1.text(0.928, 0.915, 'a)', transform=ax1.transAxes, ha='center', va='center', fontsize=14,
         fontweight='bold', bbox=dict(boxstyle='square,pad=0.3', fc='#e6e6e6', ec='none'))
ax2.text(0.928, 0.915, 'b)', transform=ax2.transAxes, ha='center', va='center', fontsize=14,
         fontweight='bold', bbox=dict(boxstyle='square,pad=0.3', fc='#e6e6e6', ec='none'))

fig.savefig('out.png', dpi=100)
